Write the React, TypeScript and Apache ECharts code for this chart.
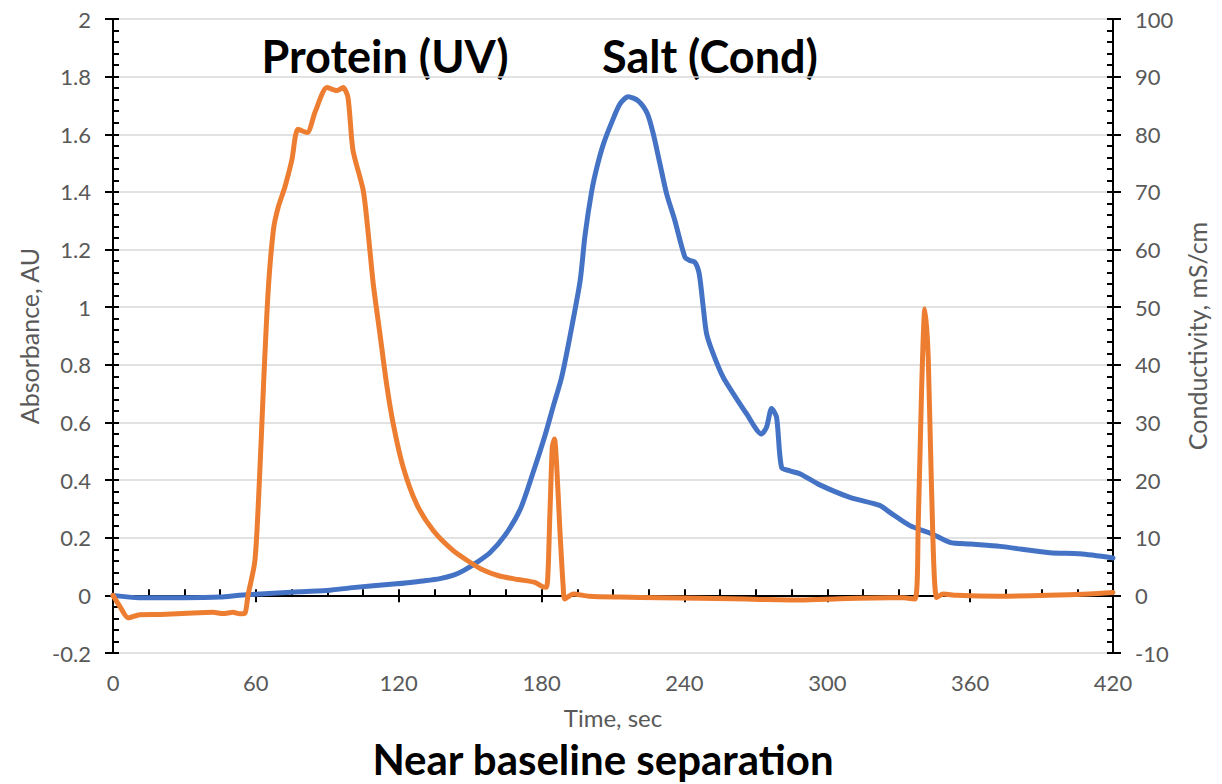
import React, { useEffect, useRef } from "react";
import * as echarts from "echarts";

// UV absorbance trace (AU) vs time (s)
const uvTime = [0, 3, 6.4, 11.3, 20, 33.6, 42, 46.2, 50.4, 53.3, 55.4, 56.7, 59.6, 61.5, 63.3, 65.2, 67.4, 69.4, 72.2, 75.1, 77.7, 81.5, 85, 89.9, 94.1, 96.6, 98.7, 100.8, 105.1, 107.2, 109.3, 112.1, 114.9, 117.7, 121.9, 127.5, 134.5, 142.9, 149.9, 155, 162, 170, 177.2, 180.5, 182.1, 183.5, 184.5, 185.4, 186.3, 187.7, 189.1, 189.8, 193.3, 200, 213, 230, 246.5, 260, 271.7, 288.5, 305, 320, 331.9, 336.8, 338.2, 339.6, 341, 342.4, 343.8, 345.9, 348.7, 354.3, 372.5, 393, 410, 420];
const uvAbs = [0, -0.04, -0.078, -0.067, -0.066, -0.061, -0.059, -0.063, -0.059, -0.064, -0.062, 0, 0.12, 0.4, 0.745, 1.06, 1.27, 1.347, 1.417, 1.51, 1.617, 1.606, 1.68, 1.762, 1.752, 1.762, 1.727, 1.544, 1.405, 1.255, 1.081, 0.908, 0.734, 0.595, 0.444, 0.317, 0.225, 0.155, 0.115, 0.09, 0.068, 0.055, 0.045, 0.03, 0.028, 0.283, 0.514, 0.543, 0.456, 0.225, 0.028, -0.0125, 0.005, -0.003, -0.006, -0.008, -0.01, -0.012, -0.014, -0.016, -0.012, -0.009, -0.008, -0.013, 0.248, 0.71, 0.994, 0.826, 0.364, -0.007, 0.005, 0, -0.003, 0, 0.005, 0.01];

// Conductivity trace (mS/cm) vs time (s)
const condTime = [0, 11, 30, 45, 53, 60, 78.5, 91.1, 99.5, 119.1, 130, 137.3, 143, 147.2, 152, 158.3, 164.6, 171, 176.5, 181.4, 184.9, 188.4, 192, 196.2, 198.2, 201, 203.2, 205.9, 209.5, 213, 216.4, 220.6, 224.4, 226.9, 229.7, 232.5, 236, 240.2, 242.3, 244.4, 246.2, 247.9, 249.3, 252.1, 256.3, 260.5, 266.1, 272.4, 274.5, 276.6, 278.7, 280.8, 284.3, 288.5, 296.2, 309.5, 322, 326.3, 334.7, 343.8, 351.5, 360, 372.5, 393.5, 406, 420];
const cond = [0, -0.4, -0.4, -0.3, 0, 0.2, 0.64, 0.9, 1.3, 2.0, 2.5, 2.9, 3.5, 4.3, 5.5, 7.4, 10.4, 14.9, 21.4, 27.7, 32.8, 37.8, 45.1, 54.6, 62.3, 70, 74.2, 78.2, 82.1, 85.3, 86.5, 85.8, 83.6, 80.1, 74.9, 69.7, 65, 58.7, 58.1, 57.8, 55.8, 50, 45.4, 41.9, 37.8, 35, 31.5, 28, 29.2, 32.4, 30.9, 22.2, 21.6, 21.1, 19.3, 17, 15.6, 14.4, 12.1, 10.7, 9.2, 8.9, 8.5, 7.4, 7.2, 6.5];

const FONT = "Lato, 'Open Sans', sans-serif";
const GRAY = "#595959";

export default function App() {
  const ref = useRef<HTMLDivElement>(null);
  useEffect(() => {
    if (!ref.current) return;
    const chart = echarts.init(ref.current, undefined, { renderer: "svg" });
    const tickStyle = { color: "#000", width: 2 };
    const labelStyle = { fontSize: 22, color: GRAY, fontFamily: FONT };
    const nameStyle = { fontSize: 24, color: GRAY, fontFamily: FONT };
    const uvData = uvTime.map((t, i) => [t, uvAbs[i]]);
    const condData = condTime.map((t, i) => [t, cond[i]]);
    chart.setOption({
      animation: false,
      backgroundColor: "#fff",
      grid: { left: 113, right: 109, top: 19, bottom: 131 },
      xAxis: [
        {
          type: "value", min: 0, max: 420, interval: 60, position: "bottom",
          axisLine: { show: true, lineStyle: tickStyle },
          axisTick: { show: true, inside: false, length: 7, lineStyle: tickStyle },
          axisLabel: { ...labelStyle, margin: 18 },
          splitLine: { show: false },
          name: "Time, sec", nameLocation: "middle", nameGap: 52, nameTextStyle: nameStyle,
        },
        {
          type: "value", min: 0, max: 420, interval: 60, position: "bottom",
          axisLine: { show: false },
          axisTick: { show: true, inside: true, length: 6, lineStyle: tickStyle },
          minorTick: { show: true, splitNumber: 4, length: 6, lineStyle: tickStyle },
          axisLabel: { show: false },
          splitLine: { show: false },
        },
      ],
      yAxis: [
        {
          type: "value", min: -0.2, max: 2, interval: 0.2, position: "left",
          axisLine: { show: true, lineStyle: tickStyle },
          axisTick: { show: true, inside: false, length: 8, lineStyle: tickStyle },
          axisLabel: { ...labelStyle, margin: 22 },
          splitLine: { show: true, lineStyle: { color: "#d9d9d9", width: 1.5 } },
          name: "Absorbance, AU", nameLocation: "middle", nameGap: 70, nameTextStyle: { ...nameStyle, fontSize: 25 },
        },
        {
          type: "value", min: -0.2, max: 2, interval: 0.2, position: "left",
          axisLine: { show: false },
          axisTick: { show: true, inside: true, length: 6, lineStyle: tickStyle },
          minorTick: { show: true, splitNumber: 5, length: 6, lineStyle: tickStyle },
          axisLabel: { show: false },
          splitLine: { show: false },
        },
        {
          type: "value", min: -10, max: 100, interval: 10, position: "right",
          axisLine: { show: true, lineStyle: tickStyle },
          axisTick: { show: true, inside: false, length: 8, lineStyle: tickStyle },
          axisLabel: { ...labelStyle, margin: 22 },
          splitLine: { show: false },
          name: "Conductivity, mS/cm", nameLocation: "middle", nameGap: 71, nameTextStyle: { ...nameStyle, fontSize: 25 },
        },
        {
          type: "value", min: -10, max: 100, interval: 10, position: "right",
          axisLine: { show: false },
          axisTick: { show: true, inside: true, length: 6, lineStyle: tickStyle },
          minorTick: { show: true, splitNumber: 5, length: 6, lineStyle: tickStyle },
          axisLabel: { show: false },
          splitLine: { show: false },
        },
      ],
      series: [
        {
          name: "Salt (Cond)", type: "line", xAxisIndex: 0, yAxisIndex: 2, data: condData,
          showSymbol: false, smooth: 0.25,
          lineStyle: { color: "#4472C4", width: 5, cap: "round", join: "round" },
        },
        {
          name: "Protein (UV)", type: "line", xAxisIndex: 0, yAxisIndex: 0, data: uvData,
          showSymbol: false, smooth: 0.25,
          lineStyle: { color: "#ED7D31", width: 5, cap: "round", join: "round" },
        },
      ],
      graphic: [
        {
          type: "text", x: 385, y: 56,
          style: { text: "Protein (UV)", font: `bold 45px ${FONT}`, fill: "#000", align: "center", verticalAlign: "middle" },
        },
        {
          type: "text", x: 710, y: 56,
          style: { text: "Salt (Cond)", font: `bold 45px ${FONT}`, fill: "#000", align: "center", verticalAlign: "middle" },
        },
        {
          type: "text", x: 603, y: 759,
          style: { text: "Near baseline separation", font: `bold 42px ${FONT}`, fill: "#000", align: "center", verticalAlign: "middle" },
        },
      ],
    });
    return () => chart.dispose();
  }, []);
  return (
    <div
      ref={ref}
      style={{ position: "fixed", left: 0, top: 0, width: 1222, height: 784, background: "#fff" }}
    />
  );
}
